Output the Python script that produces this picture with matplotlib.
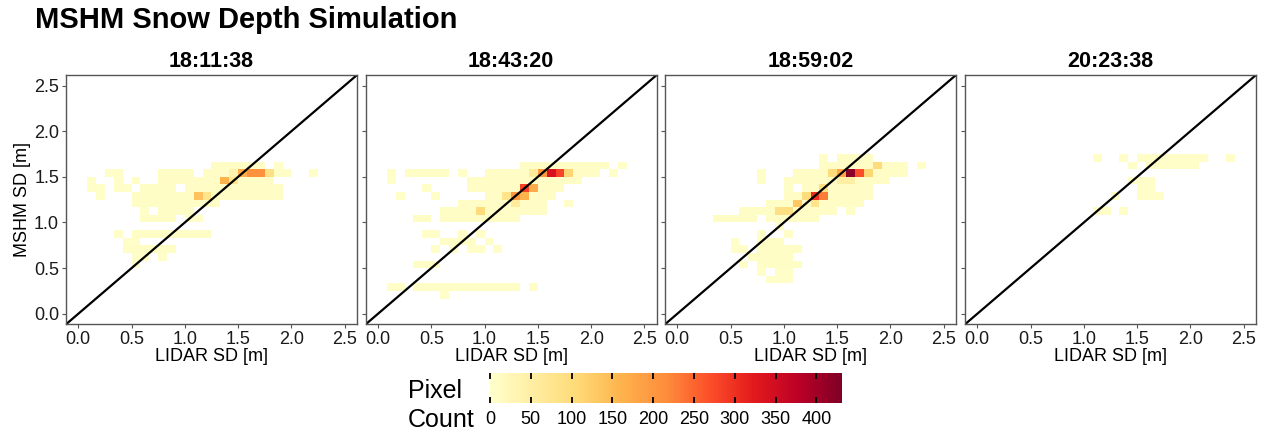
import numpy as np
import matplotlib
matplotlib.use("Agg")
import matplotlib.pyplot as plt
from matplotlib.colors import Normalize
from matplotlib.cm import ScalarMappable

plt.rcParams['font.family'] = ['Liberation Sans', 'DejaVu Sans']

# ---------------- data ----------------
BIN = 1.0 / 12.0          # bin width in metres (both axes)
N_BINS = 32
panel_titles = ["18:11:38", "18:43:20", "18:59:02", "20:23:38"]
main_title = "MSHM Snow Depth Simulation"
x_label = "LIDAR SD [m]"
y_label = "MSHM SD [m]"
axis_ticks = [0.0, 0.5, 1.0, 1.5, 2.0, 2.5]
cbar_ticks = [0, 50, 100, 150, 200, 250, 300, 350, 400]
count_max = 431

# runs of cells: (y bin, first x bin, last x bin, pixel count)
runs_1811 = [
    (19, 15, 20, 8), (19, 22, 22, 6),
    (18, 3, 4, 6), (18, 9, 12, 8), (18, 14, 16, 10), (18, 17, 17, 40),
    (18, 18, 18, 170), (18, 19, 20, 210), (18, 21, 21, 90),
    (18, 22, 23, 8), (18, 26, 26, 5),
    (17, 1, 1, 5), (17, 4, 4, 5), (17, 6, 6, 5), (17, 9, 15, 9),
    (17, 16, 16, 160), (17, 17, 17, 70), (17, 18, 21, 10),
    (16, 1, 2, 5), (16, 4, 5, 6), (16, 7, 10, 8), (16, 12, 22, 9),
    (15, 2, 2, 5), (15, 6, 12, 8), (15, 13, 13, 140), (15, 14, 14, 80),
    (15, 15, 22, 9),
    (14, 6, 15, 8),
    (13, 7, 7, 6), (13, 9, 12, 8),
    (12, 7, 10, 7), (12, 12, 13, 6),
    (10, 4, 4, 5), (10, 6, 14, 7),
    (9, 5, 6, 6),
    (8, 5, 10, 7),
    (7, 6, 7, 6), (7, 9, 9, 5),
    (6, 6, 6, 6),
]

runs_1843 = [
    (19, 16, 25, 8), (19, 27, 27, 5),
    (18, 1, 1, 5), (18, 3, 7, 7), (18, 9, 9, 5), (18, 12, 16, 9),
    (18, 17, 17, 60), (18, 18, 18, 200), (18, 19, 19, 340),
    (18, 20, 20, 280), (18, 21, 21, 110), (18, 22, 24, 9), (18, 26, 26, 5),
    (17, 1, 1, 5), (17, 10, 18, 10), (17, 19, 22, 8),
    (16, 5, 5, 5), (16, 10, 15, 9), (16, 16, 16, 280), (16, 17, 17, 170),
    (16, 18, 20, 10),
    (15, 2, 2, 5), (15, 6, 6, 5), (15, 12, 13, 9), (15, 14, 14, 80),
    (15, 15, 15, 200), (15, 16, 16, 160), (15, 17, 19, 10),
    (14, 9, 14, 9), (14, 15, 15, 60), (14, 16, 18, 9), (14, 21, 21, 6),
    (13, 7, 10, 8), (13, 11, 11, 100), (13, 12, 18, 9),
    (12, 4, 5, 7), (12, 7, 15, 8),
    (10, 5, 6, 6), (10, 9, 9, 6), (10, 11, 11, 6),
    (9, 7, 10, 7), (9, 12, 12, 5),
    (8, 6, 6, 6), (8, 8, 8, 6), (8, 10, 11, 6), (8, 13, 13, 5),
    (6, 4, 6, 7),
    (3, 1, 2, 6), (3, 4, 15, 7), (3, 17, 17, 5),
    (2, 7, 7, 5),
]

runs_1859 = [
    (20, 16, 16, 6), (20, 18, 21, 7),
    (19, 16, 21, 9), (19, 22, 22, 100), (19, 23, 25, 8), (19, 27, 27, 5),
    (18, 9, 9, 6), (18, 13, 16, 9), (18, 17, 17, 100), (18, 18, 18, 180),
    (18, 19, 19, 420), (18, 20, 20, 270), (18, 21, 21, 110), (18, 22, 25, 9),
    (17, 9, 9, 6), (17, 12, 17, 9), (17, 18, 19, 50), (17, 20, 23, 9),
    (16, 12, 12, 7), (16, 14, 15, 9), (16, 16, 16, 90), (16, 17, 21, 9),
    (15, 12, 13, 9), (15, 14, 14, 100), (15, 15, 15, 300), (15, 16, 16, 230),
    (15, 17, 21, 9),
    (14, 10, 12, 8), (14, 13, 13, 130), (14, 14, 14, 12), (14, 15, 15, 80),
    (14, 16, 20, 9),
    (13, 7, 10, 8), (13, 11, 12, 90), (13, 13, 17, 9), (13, 19, 19, 6),
    (12, 4, 8, 7), (12, 10, 15, 8),
    (11, 11, 11, 6),
    (10, 9, 9, 6), (10, 12, 12, 6),
    (9, 6, 6, 6), (9, 9, 11, 7),
    (8, 6, 7, 6), (8, 9, 13, 7),
    (7, 8, 12, 7),
    (6, 7, 7, 6), (6, 9, 13, 7),
    (5, 9, 9, 6), (5, 11, 12, 6),
    (4, 10, 12, 6),
]

runs_2023 = [
    (20, 13, 13, 5), (20, 16, 16, 5), (20, 18, 25, 6), (20, 28, 28, 5),
    (19, 17, 17, 5), (19, 19, 24, 6),
    (17, 17, 19, 6),
    (16, 18, 19, 6),
    (15, 15, 15, 5), (15, 18, 20, 6),
    (13, 13, 14, 5), (13, 16, 16, 5),
]

all_runs = [runs_1811, runs_1843, runs_1859, runs_2023]

# ---------------- figure ----------------
W, H = 1262, 436
fig = plt.figure(figsize=(W / 100, H / 100), dpi=100)

cmap = plt.get_cmap('YlOrRd')
norm = Normalize(vmin=0, vmax=count_max)
edges = np.arange(N_BINS + 1) * BIN
lims = (-0.115, 2.615)

panel_lefts = [66, 365.7, 665, 965]
panel_w = 291
panel_top, panel_bot = 75, 324.3

for k, (runs, ttl) in enumerate(zip(all_runs, panel_titles)):
    left = panel_lefts[k]
    ax = fig.add_axes([left / W, 1 - panel_bot / H, panel_w / W,
                       (panel_bot - panel_top) / H])
    grid = np.zeros((N_BINS, N_BINS))
    for r, c0, c1, n in runs:
        grid[r, c0:c1 + 1] = n
    grid = np.ma.masked_equal(grid, 0)
    ax.pcolormesh(edges, edges, grid, cmap=cmap, norm=norm)
    ax.plot(lims, lims, color='black', lw=1.6, solid_capstyle='butt')
    ax.set_xlim(lims)
    ax.set_ylim(lims)
    ax.set_xticks(axis_ticks)
    ax.set_yticks(axis_ticks)
    ax.set_xticklabels([f"{t:.1f}" for t in axis_ticks], fontsize=13, color='#1a1a1a')
    if k == 0:
        ax.set_yticklabels([f"{t:.1f}" for t in axis_ticks], fontsize=13, color='#1a1a1a')
        ax.set_ylabel(y_label, fontsize=13, labelpad=2)
    else:
        ax.set_yticklabels([])
    ax.tick_params(direction='out', length=3, width=0.8, color='#555555', pad=2)
    for s in ax.spines.values():
        s.set_color('#555555')
        s.set_linewidth(1.0)
    ax.set_xlabel(x_label, fontsize=13, labelpad=0)
    ax.set_title(ttl, fontsize=15.5, fontweight='bold', pad=6)

fig.text(35 / W, 1 - 20 / H, main_title, fontsize=21, fontweight='bold',
         ha='left', va='center')

# colour bar
cax = fig.add_axes([490 / W, 1 - 403 / H, 351.7 / W, 30 / H])
cb = fig.colorbar(ScalarMappable(norm=norm, cmap=cmap), cax=cax,
                  orientation='horizontal', ticks=cbar_ticks)
cb.outline.set_visible(False)
cax.tick_params(direction='in', length=4.5, width=1.3, color='black',
                top=True, bottom=True, labelsize=13, pad=6)
cax.set_xticklabels([str(t) for t in cbar_ticks])
fig.text(408 / W, 1 - 391 / H, "Pixel", fontsize=18, ha='left', va='center')
fig.text(408 / W, 1 - 420 / H, "Count", fontsize=18, ha='left', va='center')

fig.savefig("out.png", dpi=100)
